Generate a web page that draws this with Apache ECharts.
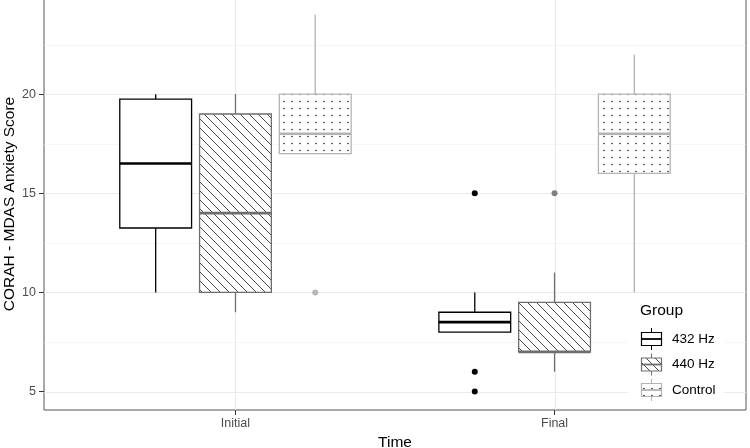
<!DOCTYPE html>
<html><head><meta charset="utf-8">
<script src="https://cdn.jsdelivr.net/npm/echarts@6/dist/echarts.min.js"></script>
<style>html,body{margin:0;padding:0;background:#fff}#c{width:750px;height:448px}</style>
</head><body><div id="c"></div>
<script>
// ---- data ----
const categories = ['Initial', 'Final'];
const groups = ['432 Hz', '440 Hz', 'Control'];
// per category: [lower whisker, Q1, median, Q3, upper whisker]
const box432 = [[10, 13.25, 16.5, 19.75, 20], [8, 8, 8.5, 9, 10]];
const box440 = [[9, 10, 14, 19, 20], [6, 7, 7, 9.5, 11]];
const boxControl = [[17, 17, 18, 20, 24], [10, 16, 18, 20, 22]];
// outliers per category
const out432 = [[], [15, 6, 5]];
const out440 = [[], [15]];
const outControl = [[10], []];
const yMajorTicks = [5, 10, 15, 20];
const yMinorTicks = [7.5, 12.5, 17.5, 22.5];

// ---- styles ----
function hatchTile() {
  const c = document.createElement('canvas'); c.width = 9; c.height = 9;
  const g = c.getContext('2d');
  g.fillStyle = '#fff'; g.fillRect(0, 0, 9, 9);
  g.strokeStyle = '#333'; g.lineWidth = 0.9;
  g.beginPath();
  g.moveTo(-1, -1); g.lineTo(10, 10);
  g.moveTo(-1, 8); g.lineTo(1, 10);
  g.moveTo(8, -1); g.lineTo(10, 1);
  g.stroke();
  return c;
}
function dotTile() {
  const c = document.createElement('canvas'); c.width = 8; c.height = 7;
  const g = c.getContext('2d');
  g.fillStyle = '#fff'; g.fillRect(0, 0, 8, 7);
  g.fillStyle = '#222';
  g.beginPath(); g.arc(4, 3.5, 0.8, 0, Math.PI * 2); g.fill();
  return c;
}
const groupStyle = [
  { stroke: '#000', fill: '#fff', lw: 1.3, medW: 2.6, outlier: '#000' },
  { stroke: '#6e6e6e', fill: { image: hatchTile(), repeat: 'repeat' }, lw: 1.3, medW: 2.6, outlier: '#808080' },
  { stroke: '#b3b3b3', fill: { image: dotTile(), repeat: 'repeat' }, lw: 1.3, medW: 2.6, outlier: '#b8b8b8' }
];
const boxSets = [box432, box440, boxControl];
const outSets = [out432, out440, outControl];
const DODGE = 0.25, BOXW = 0.225;

function boxSeries(gi) {
  const st = groupStyle[gi];
  return {
    type: 'custom', name: groups[gi], z: 3,
    encode: { x: 0, y: [1, 2, 3, 4, 5] },
    data: boxSets[gi].map((b, i) => [i + 1].concat(b)),
    renderItem: function (params, api) {
      const cat = api.value(0);
      const unit = api.coord([2, 0])[0] - api.coord([1, 0])[0];
      const cx = api.coord([cat, 0])[0] + (gi - 1) * DODGE * unit;
      const hw = BOXW * unit / 2;
      const y = k => api.coord([cat, api.value(k)])[1];
      const lo = y(1), q1 = y(2), med = y(3), q3 = y(4), hi = y(5);
      const ls = { stroke: st.stroke, lineWidth: st.lw };
      return { type: 'group', children: [
        { type: 'line', shape: { x1: cx, y1: hi, x2: cx, y2: q3 }, style: ls },
        { type: 'line', shape: { x1: cx, y1: q1, x2: cx, y2: lo }, style: ls },
        { type: 'rect', shape: { x: cx - hw, y: q3, width: 2 * hw, height: q1 - q3 }, style: { fill: st.fill, stroke: st.stroke, lineWidth: st.lw } },
        { type: 'line', shape: { x1: cx - hw, y1: med, x2: cx + hw, y2: med }, style: { stroke: st.stroke, lineWidth: st.medW } }
      ] };
    }
  };
}
function outlierSeries(gi) {
  const st = groupStyle[gi];
  const d = [];
  outSets[gi].forEach((arr, i) => arr.forEach(v => d.push([i + 1, v])));
  return {
    type: 'custom', name: groups[gi] + ' outliers', z: 4,
    encode: { x: 0, y: 1 },
    data: d,
    renderItem: function (params, api) {
      const cat = api.value(0);
      const unit = api.coord([2, 0])[0] - api.coord([1, 0])[0];
      const p = api.coord([cat, api.value(1)]);
      return { type: 'circle', shape: { cx: p[0] + (gi - 1) * DODGE * unit, cy: p[1], r: 3 }, style: { fill: st.outlier } };
    }
  };
}
// gridlines: [kind, value] kind 0 = major y, 1 = minor y, 2 = x category
const gridData = yMajorTicks.map(v => [0, v]).concat(yMinorTicks.map(v => [1, v])).concat(categories.map((c, i) => [2, i + 1]));
const gridSeries = {
  type: 'custom', name: 'grid', z: 1, silent: true,
  encode: { x: 1, y: 1 },
  data: gridData,
  renderItem: function (params, api) {
    const cs = params.coordSys;
    const kind = api.value(0), v = api.value(1);
    if (kind === 2) {
      const x = Math.round(api.coord([v, 10])[0]) + 0.5;
      return { type: 'line', shape: { x1: x, y1: cs.y, x2: x, y2: cs.y + cs.height }, style: { stroke: '#ebebeb', lineWidth: 1.1 } };
    }
    const yy = Math.round(api.coord([1, v])[1]) + 0.5;
    return { type: 'line', shape: { x1: cs.x, y1: yy, x2: cs.x + cs.width, y2: yy }, style: { stroke: kind === 0 ? '#ebebeb' : '#f2f2f2', lineWidth: kind === 0 ? 1.1 : 0.8 } };
  }
};

// ---- legend (graphic) ----
const legendEls = [
  { type: 'rect', shape: { x: 628, y: 298, width: 96, height: 106 }, style: { fill: '#fff' }, z: 10 },
  { type: 'text', x: 640, y: 311, style: { text: 'Group', fontSize: 15.5, fill: '#000', verticalAlign: 'middle', fontFamily: 'Liberation Sans, Arial, sans-serif' }, z: 11 }
];
groups.forEach((g, i) => {
  const st = groupStyle[i];
  const ky = 339 + 25.5 * i;
  legendEls.push(
    { type: 'line', shape: { x1: 651.5, y1: ky - 11, x2: 651.5, y2: ky + 11 }, style: { stroke: st.stroke, lineWidth: 1 }, z: 11 },
    { type: 'rect', shape: { x: 641.5, y: ky - 6.5, width: 20, height: 13 }, style: { fill: st.fill, stroke: st.stroke, lineWidth: 1.2 }, z: 12 },
    { type: 'line', shape: { x1: 641.5, y1: ky, x2: 661.5, y2: ky }, style: { stroke: st.stroke, lineWidth: 1.8 }, z: 13 },
    { type: 'text', x: 672, y: ky, style: { text: g, fontSize: 13.5, fill: '#000', verticalAlign: 'middle', fontFamily: 'Liberation Sans, Arial, sans-serif' }, z: 11 }
  );
});

const chart = echarts.init(document.getElementById('c'), null, { renderer: 'canvas' });
chart.setOption({
  animation: false,
  backgroundColor: '#fff',
  textStyle: { fontFamily: 'Liberation Sans, Arial, sans-serif' },
  grid: { left: 44, right: 4, top: -2, bottom: 38, outerBoundsMode: 'none', containLabel: false, show: true, borderColor: '#555', borderWidth: 1, backgroundColor: 'transparent' },
  xAxis: {
    type: 'value', min: 0.4, max: 2.6,
    axisLine: { show: false },
    splitLine: { show: false },
    axisTick: { show: true, customValues: [1, 2], length: 5, lineStyle: { color: '#333' } },
    axisLabel: { customValues: [1, 2], formatter: v => categories[Math.round(v) - 1], color: '#4d4d4d', fontSize: 12.5, margin: 7 },
    name: 'Time', nameLocation: 'middle', nameGap: 25, nameMoveOverlap: false,
    nameTextStyle: { fontSize: 15.5, color: '#000' }
  },
  yAxis: {
    type: 'value', min: 4.07, max: 24.85,
    axisLine: { show: false },
    splitLine: { show: false },
    axisTick: { show: true, customValues: yMajorTicks, length: 5, lineStyle: { color: '#333' } },
    axisLabel: { customValues: yMajorTicks, color: '#4d4d4d', fontSize: 12.5, margin: 8 },
    name: 'CORAH - MDAS Anxiety Score', nameLocation: 'middle', nameGap: 26, nameMoveOverlap: false,
    nameTextStyle: { fontSize: 15.5, color: '#000' }
  },
  graphic: legendEls,
  series: [gridSeries, boxSeries(0), boxSeries(1), boxSeries(2), outlierSeries(0), outlierSeries(1), outlierSeries(2)]
});
</script></body></html>
